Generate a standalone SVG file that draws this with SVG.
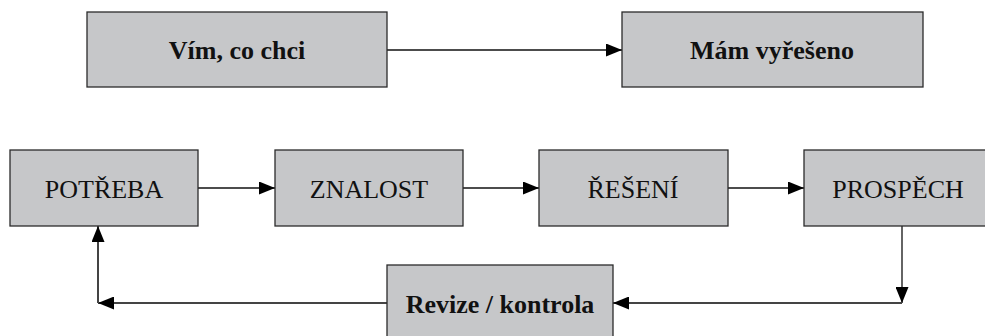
<svg xmlns="http://www.w3.org/2000/svg" width="985" height="336" viewBox="0 0 985 336">
  <defs>
    <style>
      .box { fill: #c6c7c9; stroke: #2b2b2b; stroke-width: 1.3; }
      .lbl { font-family: "Liberation Serif", "DejaVu Serif", serif; font-size: 26px; fill: #111; text-anchor: middle; }
      .b { font-weight: bold; }
      .conn { fill: none; stroke: #111; stroke-width: 1.3; }
      .fb { fill: none; stroke: #444; stroke-width: 2; }
    </style>
    <marker id="arr" markerUnits="userSpaceOnUse" markerWidth="16" markerHeight="13" refX="16" refY="6.5" orient="auto">
      <path d="M0,0 L16,6.5 L0,13 Z" fill="#000"/>
    </marker>
  </defs>
  <rect width="985" height="336" fill="#fff"/>

  <g id="connectors">
    <line class="conn" x1="387" y1="50" x2="622" y2="50" marker-end="url(#arr)"/>
    <line class="conn" x1="198" y1="188" x2="275" y2="188" marker-end="url(#arr)"/>
    <line class="conn" x1="463" y1="188" x2="539" y2="188" marker-end="url(#arr)"/>
    <line class="conn" x1="728" y1="188" x2="804" y2="188" marker-end="url(#arr)"/>
    <line class="conn" x1="902" y1="226" x2="902" y2="303" marker-end="url(#arr)"/>
    <line class="fb" x1="902" y1="303" x2="613" y2="303" marker-end="url(#arr)"/>
    <line class="fb" x1="387" y1="303" x2="98" y2="303" marker-end="url(#arr)"/>
    <line class="fb" x1="98" y1="303" x2="98" y2="226" marker-end="url(#arr)"/>
  </g>

  <g id="vim">
    <rect class="box" x="87" y="12" width="300" height="75"/>
    <text class="lbl b" x="237" y="59">Vím, co chci</text>
  </g>
  <g id="mam">
    <rect class="box" x="622" y="12" width="301" height="75"/>
    <text class="lbl b" x="772" y="59">Mám vyřešeno</text>
  </g>
  <g id="potreba">
    <rect class="box" x="10" y="150" width="188" height="76"/>
    <text class="lbl" x="104" y="198">POTŘEBA</text>
  </g>
  <g id="znalost">
    <rect class="box" x="275" y="150" width="188" height="76"/>
    <text class="lbl" x="369" y="198">ZNALOST</text>
  </g>
  <g id="reseni">
    <rect class="box" x="539" y="150" width="189" height="76"/>
    <text class="lbl" x="633" y="198">ŘEŠENÍ</text>
  </g>
  <g id="prospech">
    <rect class="box" x="804" y="150" width="188" height="76"/>
    <text class="lbl" x="898" y="198">PROSPĚCH</text>
  </g>
  <g id="revize">
    <rect class="box" x="387" y="265" width="226" height="80"/>
    <text class="lbl b" x="500" y="313">Revize / kontrola</text>
  </g>
</svg>
